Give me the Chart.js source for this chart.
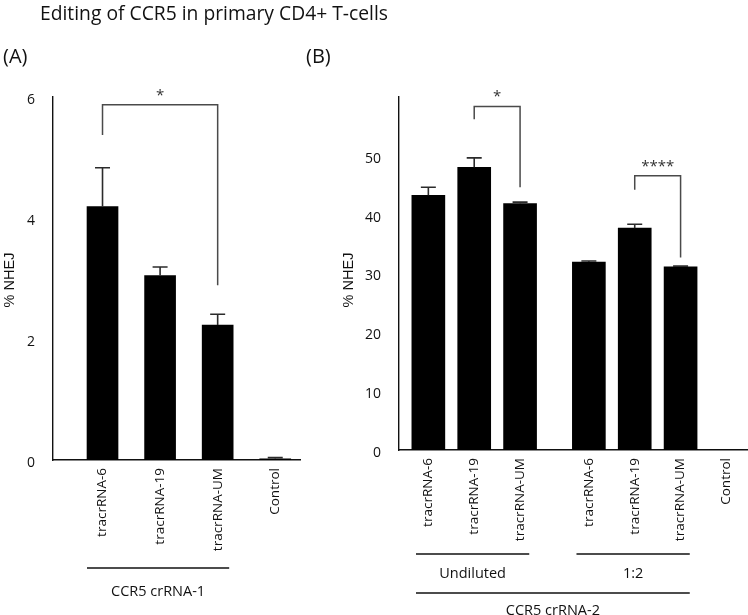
<!DOCTYPE html>
<html>
<head>
<meta charset="utf-8">
<script src="https://cdn.jsdelivr.net/npm/chart.js@4.4.1/dist/chart.umd.min.js"></script>
<style>
  body { margin: 0; background: #fff; }
  #wrap { position: relative; width: 748px; height: 615px; }
  canvas { position: absolute; left: 0; top: 0; }
</style>
</head>
<body>
<div id="wrap">
  <canvas id="chartA" width="748" height="615"></canvas>
  <canvas id="chartB" width="748" height="615"></canvas>
</div>
<script>
// panel A: CCR5 crRNA-1
const labelsA = ["tracrRNA-6", "tracrRNA-19", "tracrRNA-UM", "Control"];
const groupsA = [0, 0, 0, 0];
const valuesA = [4.19, 3.05, 2.23, 0.02];
const errorsA = [0.64, 0.14, 0.18, 0.02];
const ticksA = [0, 2, 4, 6];
const sigA = [{ from: 0, to: 2, top: 5.87, leftEnd: 5.37, rightEnd: 2.89, text: "*" }];
const bandsA = [{ text: "CCR5 crRNA-1", first: 0, last: 2, row: 0 }];

// panel B: CCR5 crRNA-2
const labelsB = ["tracrRNA-6", "tracrRNA-19", "tracrRNA-UM", "tracrRNA-6", "tracrRNA-19", "tracrRNA-UM", "Control"];
const groupsB = [0, 0, 0, 1, 1, 1, 1];
const valuesB = [43.3, 48.05, 41.9, 31.95, 37.7, 31.15, 0];
const errorsB = [1.35, 1.6, 0.23, 0.17, 0.68, 0.11, 0];
const ticksB = [0, 10, 20, 30, 40, 50];
const sigB = [
  { from: 1, to: 2, top: 58.4, leftEnd: 56.2, rightEnd: 44.65, text: "*" },
  { from: 4, to: 5, top: 46.6, leftEnd: 44.25, rightEnd: 32.7, text: "****" },
];
const bandsB = [
  { text: "Undiluted", first: 0, last: 2, row: 0 },
  { text: "1:2", first: 3, last: 5, row: 0 },
  { text: "CCR5 crRNA-2", first: 0, last: 5, row: 1 },
];

const GROUP_GAP = 0.5;
const positions = (groups) => groups.map((g, i) => i + g * GROUP_GAP);

const SANS = '"Open Sans", "Noto Sans", sans-serif';
const INK = "#111";

const drawPanel = (chart, cfg) => {
  const { ctx } = chart;
  const x = chart.scales.x;
  const y = chart.scales.y;
  const pos = cfg.pos;
  const axisY = y.getPixelForValue(0);
  ctx.save();

  // error bars
  ctx.strokeStyle = "#2b2b2b";
  ctx.lineWidth = 1.6;
  cfg.values.forEach((v, i) => {
    const e = cfg.errors[i];
    if (!e) return;
    const px = x.getPixelForValue(pos[i]);
    const y0 = y.getPixelForValue(v);
    const y1 = y.getPixelForValue(v + e);
    ctx.beginPath();
    ctx.moveTo(px, y0);
    ctx.lineTo(px, y1);
    ctx.moveTo(px - 7.5, y1);
    ctx.lineTo(px + 7.5, y1);
    ctx.stroke();
  });

  // significance brackets
  ctx.strokeStyle = "#4a4a4a";
  ctx.lineWidth = 1.5;
  ctx.fillStyle = "#333";
  ctx.font = "15px " + SANS;
  ctx.textAlign = "center";
  ctx.textBaseline = "alphabetic";
  cfg.sig.forEach((s) => {
    const xl = x.getPixelForValue(pos[s.from]);
    const xr = x.getPixelForValue(pos[s.to]);
    const yt = y.getPixelForValue(s.top);
    ctx.beginPath();
    ctx.moveTo(xl, y.getPixelForValue(s.leftEnd));
    ctx.lineTo(xl, yt);
    ctx.lineTo(xr, yt);
    ctx.lineTo(xr, y.getPixelForValue(s.rightEnd));
    ctx.stroke();
    ctx.fillText(s.text, (xl + xr) / 2, yt - 5);
  });

  // rotated category labels
  ctx.fillStyle = INK;
  ctx.font = "13.5px " + SANS;
  ctx.textAlign = "right";
  ctx.textBaseline = "middle";
  cfg.labels.forEach((lab, i) => {
    ctx.save();
    ctx.translate(x.getPixelForValue(pos[i]), axisY + 8);
    ctx.rotate(-Math.PI / 2);
    ctx.fillText(lab, 0, 0);
    ctx.restore();
  });

  // group bands under the labels
  ctx.strokeStyle = INK;
  ctx.lineWidth = 1.3;
  ctx.font = "14.5px " + SANS;
  ctx.textAlign = "center";
  cfg.bands.forEach((b) => {
    const x0 = x.getPixelForValue(pos[b.first] - 0.27);
    const x1 = x.getPixelForValue(pos[b.last] + 0.2);
    const ly = cfg.bandY[b.row];
    ctx.beginPath();
    ctx.moveTo(x0, ly);
    ctx.lineTo(x1, ly);
    ctx.stroke();
    ctx.fillText(b.text, (x0 + x1) / 2, ly + cfg.bandText[b.row]);
  });

  // y axis title
  ctx.save();
  ctx.font = '14.5px "Liberation Sans", Arial, sans-serif';
  ctx.translate(cfg.yTitleX, 280);
  ctx.rotate(-Math.PI / 2);
  ctx.fillText("% NHEJ", 0, 0);
  ctx.restore();

  // panel letter
  ctx.font = "20px " + SANS;
  ctx.textAlign = "left";
  ctx.textBaseline = "alphabetic";
  ctx.fillText(cfg.letter, cfg.letterX, 63);

  if (cfg.title) {
    ctx.font = "19.5px " + SANS;
    ctx.fillText(cfg.title, 40, 20, 348);
  }
  ctx.restore();
};

const makeChart = (id, cfg) => {
  const pos = positions(cfg.groups);
  cfg.pos = pos;
  return new Chart(document.getElementById(id), {
    type: "bar",
    data: {
      datasets: [
        {
          data: pos.map((p, i) => ({ x: p, y: cfg.values[i] })),
          backgroundColor: "#000",
          borderWidth: 0,
          barThickness: cfg.barWidth,
        },
      ],
    },
    options: {
      responsive: false,
      animation: false,
      layout: { padding: cfg.padding },
      plugins: { legend: { display: false }, tooltip: { enabled: false } },
      scales: {
        x: {
          type: "linear",
          offset: false,
          min: cfg.xMin,
          max: cfg.xMax,
          grid: { display: false },
          ticks: { display: false },
          border: { display: true, color: INK, width: 1.4 },
          afterFit: (s) => { s.height = 0; },
        },
        y: {
          min: 0,
          max: cfg.yMax,
          grid: { display: false },
          border: { display: true, color: INK, width: 1.4 },
          afterBuildTicks: (s) => { s.ticks = cfg.ticks.map((v) => ({ value: v })); },
          ticks: {
            padding: 10,
            labelOffset: 3,
            color: INK,
            font: { family: SANS, size: 14 },
          },
          afterFit: (s) => { s.width = 40; },
        },
      },
    },
    plugins: [{ id: "panel" + id, afterDatasetsDraw: (chart) => drawPanel(chart, cfg) }],
  });
};

makeChart("chartA", {
  labels: labelsA, groups: groupsA, values: valuesA, errors: errorsA, ticks: ticksA,
  sig: sigA, bands: bandsA, bandY: [568], bandText: [24],
  yMax: 6, xMin: -0.86, xMax: 3.43, barWidth: 31,
  padding: { left: 13, right: 448, top: 97, bottom: 155 },
  yTitleX: 10, letter: "(A)", letterX: 3,
  title: "Editing of CCR5 in primary CD4+ T-cells",
});

makeChart("chartB", {
  labels: labelsB, groups: groupsB, values: valuesB, errors: errorsB, ticks: ticksB,
  sig: sigB, bands: bandsB, bandY: [554, 593], bandText: [20, 18],
  yMax: 60, xMin: -0.64, xMax: 6.97, barWidth: 33,
  padding: { left: 359, right: 0, top: 97, bottom: 165 },
  yTitleX: 349, letter: "(B)", letterX: 306,
});
</script>
</body>
</html>
